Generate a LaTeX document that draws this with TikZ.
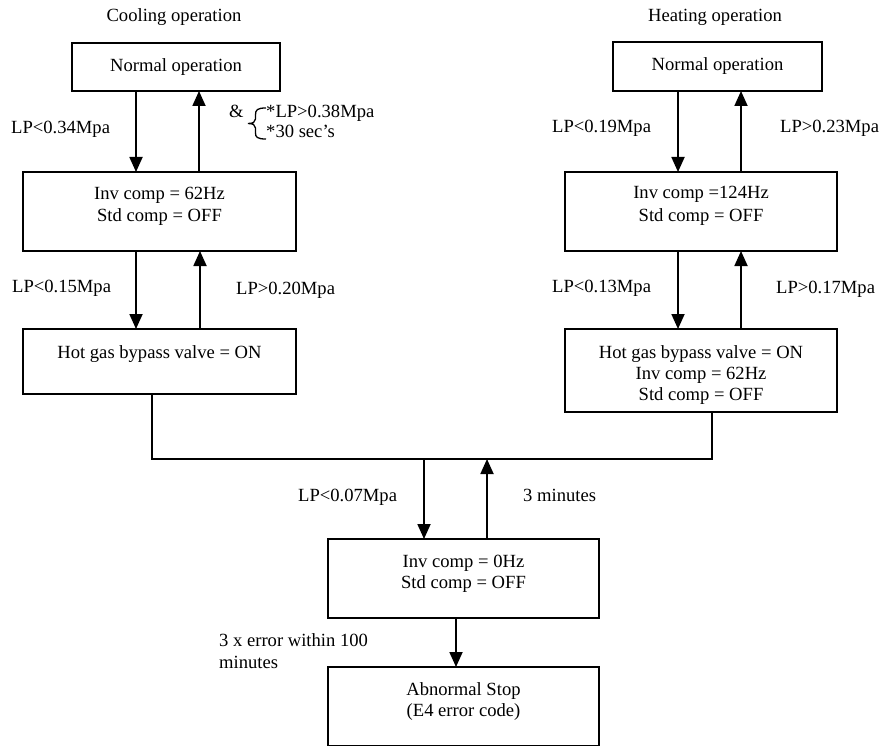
\documentclass[tikz,border=0pt]{standalone}
\usepackage{fontspec}
\setmainfont{Liberation Serif}
\usetikzlibrary{arrows.meta}
\begin{document}
\begin{tikzpicture}[x=1pt,y=-1pt,
  box/.style={draw, line width=1.8pt, rectangle, inner sep=0pt, outer sep=0pt, anchor=north west},
  txt/.style={anchor=base, inner sep=0pt, font=\fontsize{18.6}{21.5}\selectfont},
  ltxt/.style={anchor=base west, inner sep=0pt, font=\fontsize{18.6}{21.5}\selectfont},
  link/.style={line width=1.8pt, line join=miter},
  arr/.style={link, -{Triangle[width=13pt,length=15pt]}}]

% page frame
\fill[white] (0,0) rectangle (880,746);
\useasboundingbox (0,0) rectangle (880,746);

% ---------- cooling column ----------
\node[txt] (ctitle) at (174,22) {Cooling operation};
\node[box, minimum width=208pt, minimum height=48pt] (cN) at (72,43) {};
\node[txt] (cNt) at (176,72) {Normal operation};
\node[box, minimum width=273pt, minimum height=79pt] (cI) at (23,172) {};
\node[txt] (cIa) at (159.5,200) {Inv comp = 62Hz};
\node[txt] (cIb) at (159.5,222) {Std comp = OFF};
\node[box, minimum width=273pt, minimum height=65pt] (cH) at (23,329) {};
\node[txt] (cHa) at (159.5,358) {Hot gas bypass valve = ON};

\draw[arr] ([xshift=-40pt]cN.south) -- ([xshift=-40pt]cN.south |- cI.north);
\draw[arr] ([xshift=23pt]cN.south |- cI.north) -- ([xshift=23pt]cN.south);
\draw[arr] ([xshift=-23.5pt]cI.south) -- ([xshift=-23.5pt]cI.south |- cH.north);
\draw[arr] ([xshift=40.5pt]cI.south |- cH.north) -- ([xshift=40.5pt]cI.south);

\node[ltxt] (cL1) at (11,134) {LP<0.34Mpa};
\node[ltxt] (cAmp) at (229,118) {\&};
\node[ltxt] (cR1a) at (266,118) {*LP>0.38Mpa};
\node[ltxt] (cR1b) at (266,138) {*30 sec’s};
\draw[line width=1.3pt] (266,108) .. controls (257,108) and (255.5,110) .. (255.5,115)
  -- (255.5,119) .. controls (255.5,122) and (253,123.5) .. (248,123.5)
  .. controls (253,123.5) and (255.5,125) .. (255.5,128)
  -- (255.5,133) .. controls (255.5,137) and (257,139) .. (266,139);
\node[ltxt] (cL2) at (12,292) {LP<0.15Mpa};
\node[ltxt] (cR2) at (236,294) {LP>0.20Mpa};

% ---------- heating column ----------
\node[txt] (htitle) at (715,22) {Heating operation};
\node[box, minimum width=209pt, minimum height=49pt] (hN) at (613,42) {};
\node[txt] (hNt) at (717.5,71) {Normal operation};
\node[box, minimum width=272pt, minimum height=79pt] (hI) at (565,172) {};
\node[txt] (hIa) at (701,199) {Inv comp =124Hz};
\node[txt] (hIb) at (701,221) {Std comp = OFF};
\node[box, minimum width=272pt, minimum height=83pt] (hH) at (565,329) {};
\node[txt] (hHa) at (701,358) {Hot gas bypass valve = ON};
\node[txt] (hHb) at (701,379) {Inv comp = 62Hz};
\node[txt] (hHc) at (701,400) {Std comp = OFF};

\draw[arr] ([xshift=-39.5pt]hN.south) -- ([xshift=-39.5pt]hN.south |- hI.north);
\draw[arr] ([xshift=23.5pt]hN.south |- hI.north) -- ([xshift=23.5pt]hN.south);
\draw[arr] ([xshift=-23pt]hI.south) -- ([xshift=-23pt]hI.south |- hH.north);
\draw[arr] ([xshift=40pt]hI.south |- hH.north) -- ([xshift=40pt]hI.south);

\node[ltxt] (hL1) at (552,133) {LP<0.19Mpa};
\node[ltxt] (hR1) at (780,133) {LP>0.23Mpa};
\node[ltxt] (hL2) at (552,292) {LP<0.13Mpa};
\node[ltxt] (hR2) at (776,293) {LP>0.17Mpa};

% ---------- common bus and shutdown ----------
\coordinate (busR) at (712,459);
\draw[link] ([xshift=-7.5pt]cH.south) |- (busR) -- ([xshift=11pt]hH.south);

\node[box, minimum width=271pt, minimum height=79pt] (zI) at (328,539) {};
\node[txt] (zIa) at (463.5,567) {Inv comp = 0Hz};
\node[txt] (zIb) at (463.5,588) {Std comp = OFF};
\node[box, minimum width=271pt, minimum height=79pt] (ab) at (328,667) {};
\node[txt] (aba) at (463.5,695) {Abnormal Stop};
\node[txt] (abb) at (463.5,716) {(E4 error code)};

\draw[arr] ([xshift=-39.5pt]zI.north |- busR) -- ([xshift=-39.5pt]zI.north);
\draw[arr] ([xshift=23.5pt]zI.north) -- ([xshift=23.5pt]zI.north |- busR);
\draw[arr] ([xshift=-7.5pt]zI.south) -- ([xshift=-7.5pt]zI.south |- ab.north);

\node[ltxt] (zL) at (298,501) {LP<0.07Mpa};
\node[ltxt] (zR) at (523,501) {3 minutes};
\node[ltxt] (eA) at (219,646) {3 x error within 100};
\node[ltxt] (eB) at (219,668) {minutes};
\end{tikzpicture}
\end{document}
